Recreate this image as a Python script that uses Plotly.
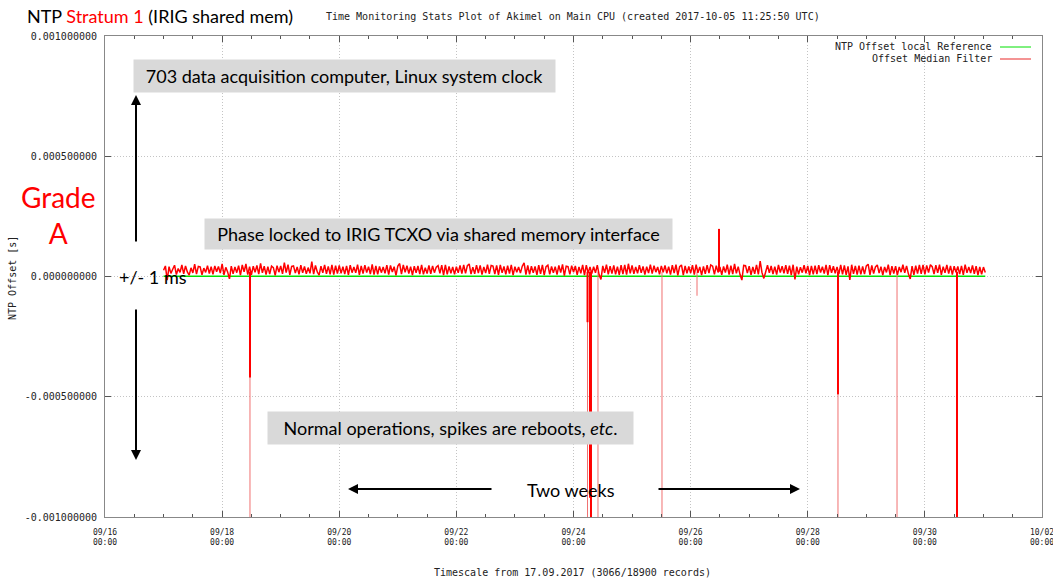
import plotly.graph_objects as go
import pandas as pd

# ---------------- data ----------------
# Offset Median Filter noise band, microseconds, one sample every 45 minutes from 17.09.2017 00:00
median_start = "2017-09-17 00:00"
median_step = "45min"
median_us = [
    26, 44, -15, 41, 13, 30, 47, 8, 33, 17, 48, 11, 44, 19, 6, 36, 15, 51, 10, 42, 40, 7, 35, 17, 45, 12, 41, 9, 44, 20,
    42, 14, 52, 7, 38, 19, -10, 43, 11, 40, 16, 45, 6, 48, 19, 52, 8, 41, 7, 43, 17, 46, 10, 55, 15, 43, 8, 41, 10, 43,
    37, 5, 45, 18, 44, 11, 58, 16, 49, 7, 42, 44, 14, 40, 9, 47, 15, 42, 11, 37, 13, 62, 10, 46, 19, 6, 43, 15, 48, 11,
    42, 9, 48, 8, 45, 12, 46, 13, 41, 10, 44, 7, 47, 16, 40, 15, 49, 7, 44, 12, 47, 16, 41, 10, 50, 8, 44, 9, 42, 16,
    40, 13, 47, 8, 46, 19, 41, 5, 43, 54, 10, 48, 17, 45, 12, 41, 6, 43, 15, 44, 10, 48, 9, 37, 12, 46, 11, 44, 16, 39,
    45, 13, 47, 6, 48, 9, 42, 13, 40, 9, 41, 15, 46, 12, 48, 13, 45, 52, 10, 39, 11, 47, 14, 46, 8, 40, 14, 49, 11, 46,
    43, 10, 46, 7, 48, 15, 42, 9, 45, 12, 48, 6, 41, 18, 40, 14, 43, 57, 8, 46, 9, 43, 15, 42, 7, 47, 11, 48, 6, 41,
    47, 9, 42, 15, 41, 8, 46, 16, 50, 4, 43, 41, 9, 45, 18, 44, 7, 40, 13, 48, 6, 47, 14, 40, 12, 41, 15, 47, 7, -12,
    44, 15, 49, 9, 43, 12, 46, 9, 41, 7, 47, 10, 48, 8, 53, 13, 46, 11, 40, 13, 47, 15, 42, 8, 41, 14, 49, 12, 45, 18,
    40, 9, 44, 17, 46, 13, 41, 8, 47, 14, 49, 5, 41, 48, 6, 44, 13, 42, 14, 47, 8, 49, 15, 40, 6, 42, 11, 47, 14, 48,
    43, 9, 45, 17, 40, 7, 42, 16, 49, 8, 45, 10, 52, 13, 41, 8, -15, 46, 45, 14, 43, 7, 40, 11, 48, 9, 64, 16, -8, 19,
    47, 15, 44, 10, 41, 8, 48, 16, 43, 13, 47, 11, 45, 6, 49, -12, 41, 9, 39, 16, 47, 13, 44, 6, 44, 9, 45, 10, 47, 16,
    41, 12, 48, 6, 47, 15, 43, 13, 40, 10, 48, 9, 46, 7, 42, -14, 49, 11, 44, 8, 45, 9, 42, 10, 44, 51, 7, 46, 12, 40,
    48, 14, 41, 6, 40, 17, 49, 6, 43, 12, 43, 7, 40, 18, 49, 15, 44, 11, -10, 43, 7, 45, 12, 48, 11, 48, 9, 46, 16, 49,
    41, 10, 47, 15, 49, 7, 41, 15, 48, 12, 44, 8, 43, 17, 42, 10, 44, 7, 49, 15, 40, 14, 46, 11, 43, 6, 40, 9, 39, 17,
]

# NTP Offset local Reference, microseconds, daily
reference_times = pd.date_range("2017-09-17 00:00", "2017-10-01 00:00", freq="1D").tolist() + [pd.Timestamp("2017-10-01 00:45")]
reference_us = [1, 1, 2, 1, 1, 1, 2, 1, 1, 1, 2, 1, 1, 1, 1, 1]

# Median filter spikes (thick part), seconds
spike_times = ["2017-09-18 11:25", "2017-09-24 05:45", "2017-09-24 06:45", "2017-09-24 07:10",
               "2017-09-26 11:38", "2017-09-28 12:23", "2017-09-30 13:10"]
spike_values = [-0.00042, -0.00019, -0.00092, -0.00105, 0.000198, -0.00049, -0.00105]

# Raw offset spikes (thin part), seconds
raw_spike_times = ["2017-09-18 11:25", "2017-09-24 05:45", "2017-09-24 10:02", "2017-09-25 12:16",
                   "2017-09-26 02:37", "2017-09-28 12:23", "2017-09-29 12:35"]
raw_spike_values = [-0.00105, -0.00105, -0.00105, -0.00105, -0.00008, -0.00105, -0.00105]
spike_base = 0.00002

x_tick_vals = ["2017-09-16", "2017-09-18", "2017-09-20", "2017-09-22", "2017-09-24",
               "2017-09-26", "2017-09-28", "2017-09-30", "2017-10-02"]
x_tick_text = ["09/16<br>00:00", "09/18<br>00:00", "09/20<br>00:00", "09/22<br>00:00", "09/24<br>00:00",
               "09/26<br>00:00", "09/28<br>00:00", "09/30<br>00:00", "10/02<br>00:00"]
y_tick_vals = [-0.001, -0.0005, 0.0, 0.0005, 0.001]
y_tick_text = ["-0.001000000", "-0.000500000", "0.000000000", "0.000500000", "0.001000000"]

# ---------------- layout geometry ----------------
W, H = 1053, 579
PL, PR, PT, PB = 105, 1042, 36, 517


def fx(px):
    return (px - PL) / (PR - PL)


def fy(py):
    return (PB - py) / (PB - PT)


def segments(times, values, base):
    xs, ys = [], []
    for t, v in zip(times, values):
        xs += [t, t, None]
        ys += [base, v, None]
    return xs, ys


median_times = pd.date_range(median_start, periods=len(median_us), freq=median_step)

fig = go.Figure()
fig.add_trace(go.Scatter(
    x=reference_times, y=[v * 1e-6 for v in reference_us], mode="lines",
    line=dict(color="#00e000", width=1.5), name="NTP Offset local Reference", hoverinfo="skip"))

rx, ry = segments(raw_spike_times, raw_spike_values, spike_base)
fig.add_trace(go.Scatter(x=rx, y=ry, mode="lines", line=dict(color="#f07070", width=1),
                         showlegend=False, hoverinfo="skip"))

fig.add_trace(go.Scatter(
    x=median_times, y=[v * 1e-6 for v in median_us], mode="lines",
    line=dict(color="#ff0000", width=1.5, simplify=False), name="Offset Median Filter", hoverinfo="skip"))

sx, sy = segments(spike_times, spike_values, spike_base)
fig.add_trace(go.Scatter(x=sx, y=sy, mode="lines", line=dict(color="#ff0000", width=2),
                         showlegend=False, hoverinfo="skip"))

MONO = "DejaVu Sans Mono"
SANS = "Lato"
GRID = "#c4c4c4"

fig.update_layout(
    width=W, height=H,
    margin=dict(l=PL, r=W - PR, t=PT, b=H - PB, autoexpand=False),
    paper_bgcolor="white", plot_bgcolor="white",
    showlegend=False,
    xaxis=dict(
        type="date", range=["2017-09-16", "2017-10-02"], automargin=False,
        tickmode="array", tickvals=x_tick_vals, ticktext=x_tick_text,
        ticks="inside", ticklen=6, tickcolor="#555", tickwidth=1,
        showline=True, linecolor="#888", linewidth=1, mirror="ticks",
        showgrid=True, gridcolor=GRID, griddash="1px,2px", gridwidth=1,
        zeroline=False, ticklabeloverflow="allow", ticklabelstandoff=7,
        tickfont=dict(family=MONO, size=8, color="#222"),
        minor=dict(dtick=12 * 3600 * 1000, tick0="2017-09-16", ticks="inside", ticklen=3,
                   tickcolor="#555", showgrid=False),
    ),
    yaxis=dict(
        range=[-0.001, 0.001], automargin=False,
        tickmode="array", tickvals=y_tick_vals, ticktext=y_tick_text,
        ticks="inside", ticklen=6, tickcolor="#555", tickwidth=1,
        showline=True, linecolor="#888", linewidth=1, mirror="ticks",
        showgrid=True, gridcolor=GRID, griddash="1px,2px", gridwidth=1,
        zeroline=False, ticklabeloverflow="allow", ticklabelstandoff=5,
        tickfont=dict(family=MONO, size=10, color="#222"),
    ),
)

ann = []
# main title (slide text)
ann.append(dict(text="NTP <span style='color:#ff0000'>Stratum 1</span> (IRIG shared mem)",
                x=fx(25), y=fy(16), xanchor="left", yanchor="middle",
                font=dict(family=SANS, size=18, color="black")))
# gnuplot title
ann.append(dict(text="Time Monitoring Stats Plot of Akimel on Main CPU (created 2017-10-05 11:25:50 UTC)",
                x=fx(324), y=fy(17), xanchor="left", yanchor="middle",
                font=dict(family=MONO, size=10, color="#222")))
# axis titles
ann.append(dict(text="Timescale from 17.09.2017 (3066/18900 records)",
                x=fx(572.5), y=fy(572), xanchor="center", yanchor="middle",
                font=dict(family=MONO, size=10, color="#222")))
ann.append(dict(text="NTP Offset [s]", textangle=-90,
                x=fx(12), y=fy(278), xanchor="center", yanchor="middle",
                font=dict(family=MONO, size=10, color="#222")))
# legend text
ann.append(dict(text="NTP Offset local Reference", x=fx(994), y=fy(47), xanchor="right", yanchor="middle",
                font=dict(family=MONO, size=10, color="#222")))
ann.append(dict(text="Offset Median Filter", x=fx(994), y=fy(59), xanchor="right", yanchor="middle",
                font=dict(family=MONO, size=10, color="#222")))

# grey boxes
boxes = [
    ("703 data acquisition computer, Linux system clock", 134, 60, 555, 92),
    ("Phase locked to IRIG TCXO via shared memory interface", 205, 219, 672, 249),
    ("Normal operations, spikes are reboots, <i>etc</i>.", 268, 412, 633, 444),
]
for txt, x0, y0, x1, y1 in boxes:
    ann.append(dict(text=txt, x=fx((x0 + x1) / 2), y=fy((y0 + y1) / 2), xanchor="center", yanchor="middle",
                    width=x1 - x0, height=y1 - y0, borderpad=0, bgcolor="#d9d9d9", align="center", valign="middle",
                    font=dict(family=SANS, size=18, color="black")))

ann.append(dict(text="Grade<br>A", x=fx(58), y=fy(215), xanchor="center", yanchor="middle",
                font=dict(family=SANS, size=28, color="#ff0000")))
ann.append(dict(text="+/- 1 ms", x=fx(117), y=fy(277), xanchor="left", yanchor="middle",
                font=dict(family=SANS, size=18, color="black")))
ann.append(dict(text="Two weeks", x=fx(571), y=fy(490), xanchor="center", yanchor="middle",
                font=dict(family=SANS, size=18, color="black")))

# arrows: (head_x, head_y, tail_x, tail_y)
arrows = [(136, 95, 136, 243), (136, 460, 136, 308), (348, 489, 493, 489), (800, 489, 657, 489)]
for hx, hy, tx, ty in arrows:
    ann.append(dict(text="", x=fx(hx), y=fy(hy), ax=tx - hx, ay=ty - hy, showarrow=True,
                    arrowhead=2, arrowsize=1, arrowwidth=2, arrowcolor="black", standoff=0, startstandoff=0))

for a in ann:
    a.setdefault("xref", "paper")
    a.setdefault("yref", "paper")
    a.setdefault("showarrow", False)
fig.update_layout(annotations=ann)

# legend line samples
fig.add_shape(type="line", xref="paper", yref="paper", x0=fx(1000), x1=fx(1031), y0=fy(47), y1=fy(47),
              line=dict(color="#00e000", width=1))
fig.add_shape(type="line", xref="paper", yref="paper", x0=fx(1000), x1=fx(1031), y0=fy(59), y1=fy(59),
              line=dict(color="#f07070", width=1.5))

fig.write_html("out.html", config={"displayModeBar": False},
               post_script="document.body.style.margin='0';document.body.style.overflow='hidden';")
